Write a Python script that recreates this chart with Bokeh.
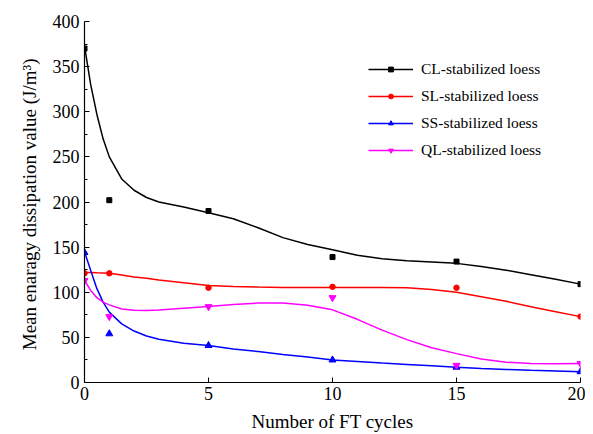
from bokeh.plotting import figure
from bokeh.models import Range1d, Legend, LegendItem, FixedTicker
from bokeh.embed import file_html
from bokeh.resources import INLINE

# measured points
cycles = [0, 1, 5, 10, 15, 20]
cl_pts = [370, 202, 190, 139, 134, 109]
sl_pts = [121, 121, 105, 106, 105, 73]
ss_pts = [144, 54, 41, 25, 17, 12]
ql_pts = [113, 73, 84, 94, 19, 21]

# fitted curves
curve_x = [0, 0.25, 0.5, 0.75, 1, 1.5, 2, 2.5, 3, 4, 5, 6, 7, 8, 9, 10,
           11, 12, 13, 14, 15, 16, 17, 18, 19, 20]
cl_fit = [373, 330, 297, 270, 250, 225.5, 213, 205, 200, 194.5, 188, 181.5,
          171.5, 160.5, 153, 147, 141, 137, 135, 133.5, 132, 128.5, 124.5,
          119.5, 114.5, 109]
sl_fit = [122, 121.8, 121.5, 121.3, 121, 119, 117, 115.5, 113.5, 110.5,
          107.5, 106.3, 105.7, 105.3, 105.2, 105.2, 105.2, 105.2, 105, 103,
          100, 95, 90, 84, 78.5, 73]
ss_fit = [145, 124, 104, 89, 78, 65, 57, 51.5, 48, 43.5, 41, 37, 34.3, 31,
          28.3, 25, 23.3, 21.5, 20, 18.5, 17, 15.5, 14.5, 13.5, 12.8, 12]
ql_fit = [113, 102, 94, 89, 86, 81.5, 80, 79.7, 80.3, 82.3, 84.3, 86.5, 88,
          88, 85.5, 80.5, 70, 58, 47.5, 38.5, 32, 26, 22.5, 21, 20.7, 21]

names = ["CL-stabilized loess", "SL-stabilized loess",
         "SS-stabilized loess", "QL-stabilized loess"]
colors = ["#000000", "#FF0000", "#0000FF", "#FF00FF"]
markers = ["square", "circle", "triangle", "inverted_triangle"]
sizes = [5, 5.5, 7, 7]

x_ticks = [0, 5, 10, 15, 20]
y_ticks = [0, 50, 100, 150, 200, 250, 300, 350, 400]

p = figure(width=585, height=434, output_backend="svg", toolbar_location=None,
           x_range=Range1d(0, 20), y_range=Range1d(0, 400),
           min_border_left=84, min_border_right=5, min_border_top=21,
           min_border_bottom=51)
p.grid.visible = False
p.outline_line_color = None
p.background_fill_color = "white"
p.border_fill_color = "white"

font = "Liberation Serif"
for ax in (p.xaxis[0], p.yaxis[0]):
    ax.axis_line_color = "black"
    ax.axis_line_width = 1.2
    ax.major_tick_in = 5
    ax.major_tick_out = 0
    ax.major_tick_line_color = "black"
    ax.minor_tick_in = 3
    ax.minor_tick_out = 0
    ax.major_label_text_font = font
    ax.major_label_text_font_size = "18px"
    ax.major_label_text_color = "black"
    ax.axis_label_text_font = font
    ax.axis_label_text_font_size = "19px"
    ax.axis_label_text_font_style = "normal"
    ax.axis_label_text_color = "black"

p.xaxis.ticker = FixedTicker(ticks=x_ticks)
p.yaxis.ticker = FixedTicker(ticks=y_ticks, minor_ticks=[v + 25 for v in y_ticks[:-1]])
p.xaxis.minor_tick_line_color = None
p.xaxis.axis_label = "Number of FT cycles"
p.yaxis.axis_label = "Mean enaragy dissipation value  (J/m³)"
p.xaxis.major_label_standoff = 4
p.yaxis.major_label_standoff = 5
p.xaxis.axis_label_standoff = 8
p.yaxis.axis_label_standoff = 10

fits = [cl_fit, sl_fit, ss_fit, ql_fit]
pts = [cl_pts, sl_pts, ss_pts, ql_pts]
items = []
for name, col, mk, sz, fit, pt in zip(names, colors, markers, sizes, fits, pts):
    lr = p.line(curve_x, fit, line_color=col, line_width=1.5)
    sr = p.scatter(cycles, pt, marker=mk, size=sz, fill_color=col, line_color=col)
    items.append(LegendItem(label=name, renderers=[lr, sr]))

legend = Legend(items=items, location=(284, 222), glyph_width=45,
                glyph_height=12, label_height=20, label_standoff=8, spacing=7,
                padding=10, label_text_font=font, label_text_font_size="15.5px",
                label_text_color="black", border_line_color=None,
                background_fill_alpha=0)
p.add_layout(legend)

open("out.html", "w").write(file_html(p, INLINE))
